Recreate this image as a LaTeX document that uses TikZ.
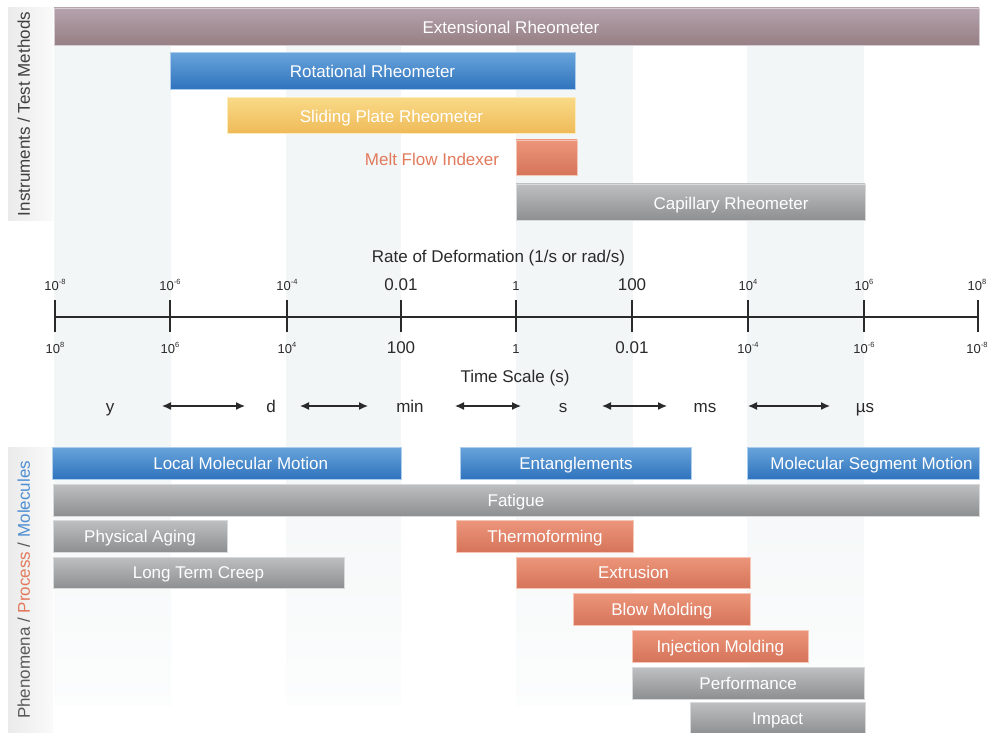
\documentclass[tikz,border=0pt]{standalone}
\usepackage{fontspec}
\setmainfont{Liberation Sans}
\usetikzlibrary{arrows.meta}
\definecolor{bluetop}{HTML}{68A4DB}
\definecolor{bluebot}{HTML}{2F73BD}
\definecolor{graytop}{HTML}{BEBFC1}
\definecolor{graybot}{HTML}{8D8E90}
\definecolor{orgtop}{HTML}{EC957A}
\definecolor{orgbot}{HTML}{D5745A}
\definecolor{yeltop}{HTML}{F9DA87}
\definecolor{yelbot}{HTML}{EFBA58}
\definecolor{mautop}{HTML}{B4A2AD}
\definecolor{maubot}{HTML}{967F84}
\definecolor{stripe}{HTML}{F3F6F7}
\definecolor{ink}{HTML}{2A2A2A}
\definecolor{meltorange}{HTML}{E27A5C}
\definecolor{molblue}{HTML}{4F8FD3}
\definecolor{labgray}{HTML}{5A5A5A}
\newcommand{\mypow}[1]{10\raisebox{0.42em}{\fontsize{7.5}{7.5}\selectfont#1}}
\begin{document}
\begin{tikzpicture}[x=1pt,y=-1pt,
  bigfont/.style={font=\fontsize{17}{17}\selectfont},
  barbase/.style={anchor=north west, inner sep=0pt, outer sep=0pt, line width=0.9pt,
    text=white, bigfont, text height=12.2pt, text depth=0pt},
  bluebar/.style={barbase, top color=bluetop, bottom color=bluebot, draw=bluetop!55!white},
  graybar/.style={barbase, top color=graytop, bottom color=graybot, draw=graytop!60!white},
  orgbar/.style={barbase, top color=orgtop, bottom color=orgbot, draw=orgtop!55!white},
  yelbar/.style={barbase, top color=yeltop, bottom color=yelbot, draw=yeltop!55!white},
  maubar/.style={barbase, top color=mautop, bottom color=maubot, draw=mautop!55!white},
  btext/.style={bigfont, text=white, inner sep=0pt, text height=12.2pt, text depth=0pt},
  small/.style={font=\fontsize{13}{13}\selectfont, text=ink, anchor=base, inner sep=0pt},
  large/.style={bigfont, text=ink, anchor=base, inner sep=0pt},
  title/.style={bigfont, text=ink, inner sep=0pt, text height=12.2pt, text depth=0pt},
  axisline/.style={line width=2.5pt, draw=ink},
  dbl/.style={{Latex[length=9pt,width=8pt]}-{Latex[length=9pt,width=8pt]}, line width=1.3pt, draw=ink},
  side/.style={bigfont, rotate=90, inner sep=0pt, text height=12.2pt, text depth=0pt}
]
\useasboundingbox (0,0) rectangle (991,733);
\fill[white] (0,0) rectangle (991,733);

% background stripes
\foreach \a/\b in {54/171, 286/401, 516/633, 747/864}{
  \fill[stripe] (\a,8) rectangle (\b,440);
  \shade[top color=stripe, bottom color=stripe!25!white] (\a,440) rectangle (\b,705);
}

% left label strips
\shade[left color=black!8, right color=black!2] (8,8) rectangle (53,220);
\shade[left color=black!8, right color=black!2] (8,447) rectangle (53,733);
\node[side, text=ink!90] (instr) at (23.7,114) {Instruments / Test Methods};
\node[side] (phen) at (23.7,590) {\textcolor{labgray}{Phenomena /} \textcolor{meltorange}{Process} \textcolor{labgray}{/} \textcolor{molblue}{Molecules}};

% instruments
\node[maubar, minimum width=925pt, minimum height=37.5pt] (ext) at (54,8) {};
\node[btext] (extT) at (511,27) {Extensional Rheometer};
\node[bluebar, minimum width=405pt, minimum height=36.6pt] (rot) at (170,52.7) {Rotational Rheometer};
\node[yelbar, minimum width=348pt, minimum height=36.4pt] (slide) at (227,97.3) {};
\node[btext] (slideT) at (391.5,116) {Sliding Plate Rheometer};
\node[orgbar, minimum width=61pt, minimum height=35.7pt] (melt) at (516,140) {};
\node[btext, text=meltorange] (meltT) at (432,159.5) {Melt Flow Indexer};
\node[graybar, minimum width=349pt, minimum height=36.7pt] (cap) at (516,184) {};
\node[btext] (capT) at (731,203.3) {Capillary Rheometer};

% axis
\foreach \i/\x in {0/55,1/170,2/287,3/401,4/516,5/632,6/748,7/864,8/978}
  \coordinate (t\i) at (\x,317);
\draw[axisline] (t0) -- (t8);
\foreach \i in {0,...,8}
  \draw[axisline] ([yshift=17pt]t\i) -- ([yshift=-15pt]t\i);

\node[title] (rate) at (498.5,256.3) {Rate of Deformation (1/s or rad/s)};
\node[small] (u0) at (55,290) {\mypow{-8}};
\node[small] (u1) at (170,290) {\mypow{-6}};
\node[small] (u2) at (287,290) {\mypow{-4}};
\node[large] (u3) at (401,290) {0.01};
\node[small] (u4) at (516,290) {1};
\node[large] (u5) at (632,290) {100};
\node[small] (u6) at (748,290) {\mypow{4}};
\node[small] (u7) at (864,290) {\mypow{6}};
\node[small] (u8) at (977,290) {\mypow{8}};

\node[small] (l0) at (55,353) {\mypow{8}};
\node[small] (l1) at (170,353) {\mypow{6}};
\node[small] (l2) at (287,353) {\mypow{4}};
\node[large] (l3) at (401,353) {100};
\node[small] (l4) at (516,353) {1};
\node[large] (l5) at (632,353) {0.01};
\node[small] (l6) at (748,353) {\mypow{-4}};
\node[small] (l7) at (864,353) {\mypow{-6}};
\node[small] (l8) at (977,353) {\mypow{-8}};
\node[title] (tscale) at (515,376) {Time Scale (s)};

% time units
\node[large] (uy) at (110,412) {y};
\node[large] (ud) at (271,412) {d};
\node[large] (umin) at (410,412) {min};
\node[large] (us) at (563,412) {s};
\node[large] (ums) at (705,412) {ms};
\node[large] (uus) at (865,412) {µs};
\foreach \n/\a/\b in {1/162/245, 2/300/368, 3/455/521, 4/602/667, 5/748/830}{
  \coordinate (aL\n) at (\a,406);
  \coordinate (aR\n) at (\b,406);
  \draw[dbl] (aL\n) -- (aR\n);
}

% phenomena / process / molecules
\node[bluebar, minimum width=349pt, minimum height=31.7pt] (lmm) at (52,447.3) {};
\node[btext] (lmmT) at (240.7,463.1) {Local Molecular Motion};
\node[bluebar, minimum width=230.6pt, minimum height=31.7pt] (ent) at (460.7,447.3) {Entanglements};
\node[bluebar, minimum width=232pt, minimum height=31.7pt] (msm) at (747,447.3) {};
\node[btext] (msmT) at (871.5,463.1) {Molecular Segment Motion};
\node[graybar, minimum width=926pt, minimum height=32pt] (fat) at (53,484.3) {Fatigue};
\node[graybar, minimum width=174pt, minimum height=31.6pt] (aging) at (53,520.7) {Physical Aging};
\node[graybar, minimum width=291pt, minimum height=31.7pt] (creep) at (53,557) {Long Term Creep};
\node[orgbar, minimum width=176.6pt, minimum height=31.6pt] (thermo) at (456.7,520.7) {Thermoforming};
\node[orgbar, minimum width=233.6pt, minimum height=31.7pt] (extr) at (516.7,557) {Extrusion};
\node[orgbar, minimum width=177pt, minimum height=32.4pt] (blow) at (573.3,593.3) {Blow Molding};
\node[orgbar, minimum width=176pt, minimum height=31.7pt] (inj) at (632.3,630.3) {Injection Molding};
\node[graybar, minimum width=231.7pt, minimum height=31.6pt] (perf) at (632.3,667.7) {Performance};
\node[graybar, minimum width=174.7pt, minimum height=32pt] (impact) at (690.3,702.7) {Impact};
\end{tikzpicture}
\end{document}
